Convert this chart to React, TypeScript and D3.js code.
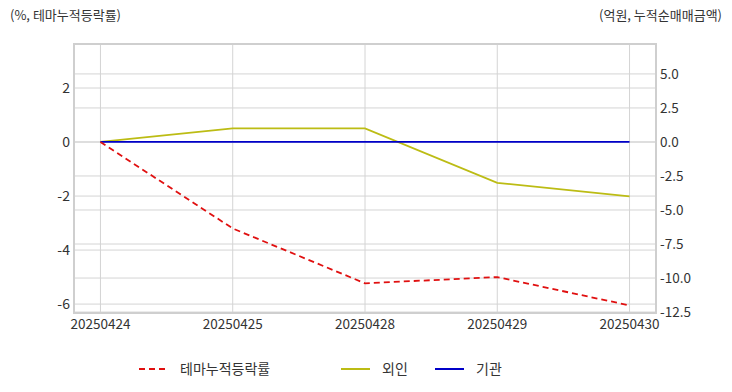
import { line, scaleLinear, scalePoint } from 'd3'

const width = 732
const height = 392
const plot = { left: 74, right: 656, top: 44, bottom: 313 }

const dates = ['20250424', '20250425', '20250428', '20250429', '20250430']
const themeReturn = [0, -3.2, -5.23, -5.0, -6.05]
const foreign = [0, 1.0, 1.0, -3.0, -4.0]
const institution = [0, 0, 0, 0, 0]
const leftTicks = [2, 0, -2, -4, -6]
const rightTicks = [5, 2.5, 0, -2.5, -5, -7.5, -10, -12.5]

const font = "'Noto Sans CJK KR', 'Noto Sans', sans-serif"
const textColor = '#333'
const gridColor = '#d4d4d4'

function App() {
  const x = scalePoint<string>()
    .domain(dates)
    .range([plot.left, plot.right])
    .padding(0.2)
  const yLeft = scaleLinear().domain([-6.33, 3.63]).range([plot.bottom, plot.top])
  const yRight = scaleLinear().domain([-12.57, 7.2]).range([plot.bottom, plot.top])

  const leftLine = line<number>()
    .x((_, i) => x(dates[i]) as number)
    .y((d) => yLeft(d))
  const rightLine = line<number>()
    .x((_, i) => x(dates[i]) as number)
    .y((d) => yRight(d))

  const legend = [
    { label: '테마누적등락률', color: '#e01010', dash: '6,4', x: 139 },
    { label: '외인', color: '#bcbc14', dash: undefined, x: 341 },
    { label: '기관', color: '#0000c8', dash: undefined, x: 435 },
  ]

  return (
    <svg
      width={width}
      height={height}
      style={{ position: 'absolute', left: 0, top: 0, fontFamily: font }}
    >
      <rect width={width} height={height} fill="white" />
      {/* gridlines */}
      {leftTicks.map((t) => (
        <line key={'gl' + t} x1={plot.left} x2={plot.right} y1={yLeft(t)} y2={yLeft(t)} stroke={gridColor} />
      ))}
      {rightTicks.map((t) => (
        <line key={'gr' + t} x1={plot.left} x2={plot.right} y1={yRight(t)} y2={yRight(t)} stroke={gridColor} />
      ))}
      {dates.map((d) => (
        <line key={'gx' + d} x1={x(d)} x2={x(d)} y1={plot.top} y2={plot.bottom} stroke={gridColor} />
      ))}
      <rect
        x={plot.left}
        y={plot.top}
        width={plot.right - plot.left}
        height={plot.bottom - plot.top}
        fill="none"
        stroke="#cfcfcf"
        strokeWidth={2}
      />
      {/* series */}
      <path d={rightLine(foreign) ?? ''} fill="none" stroke="#bcbc14" strokeWidth={1.8} />
      <path d={rightLine(institution) ?? ''} fill="none" stroke="#0000c8" strokeWidth={1.8} />
      <path d={leftLine(themeReturn) ?? ''} fill="none" stroke="#e01010" strokeWidth={1.8} strokeDasharray="6,4" />
      {/* axes labels */}
      {leftTicks.map((t) => (
        <text key={'tl' + t} x={70} y={yLeft(t)} dy=".35em" textAnchor="end" fontSize={14} fill={textColor}>
          {t}
        </text>
      ))}
      {rightTicks.map((t) => (
        <text key={'tr' + t} x={660} y={yRight(t)} dy=".35em" fontSize={13.5} fill={textColor}>
          {t.toFixed(1)}
        </text>
      ))}
      {dates.map((d) => (
        <text key={'tx' + d} x={x(d)} y={plot.bottom + 16} textAnchor="middle" fontSize={13.5} fill={textColor}>
          {d}
        </text>
      ))}
      <text x={10} y={20} fontSize={13} fill={textColor}>(%, 테마누적등락률)</text>
      <text x={722} y={20} textAnchor="end" fontSize={13} fill={textColor}>(억원, 누적순매매금액)</text>
      {/* legend */}
      {legend.map((l) => (
        <g key={l.label}>
          <line x1={l.x} x2={l.x + 29} y1={369} y2={369} stroke={l.color} strokeWidth={2} strokeDasharray={l.dash} />
          <text x={l.x + 41} y={369} dy=".35em" fontSize={14} fill={textColor}>
            {l.label}
          </text>
        </g>
      ))}
    </svg>
  )
}

export default App
